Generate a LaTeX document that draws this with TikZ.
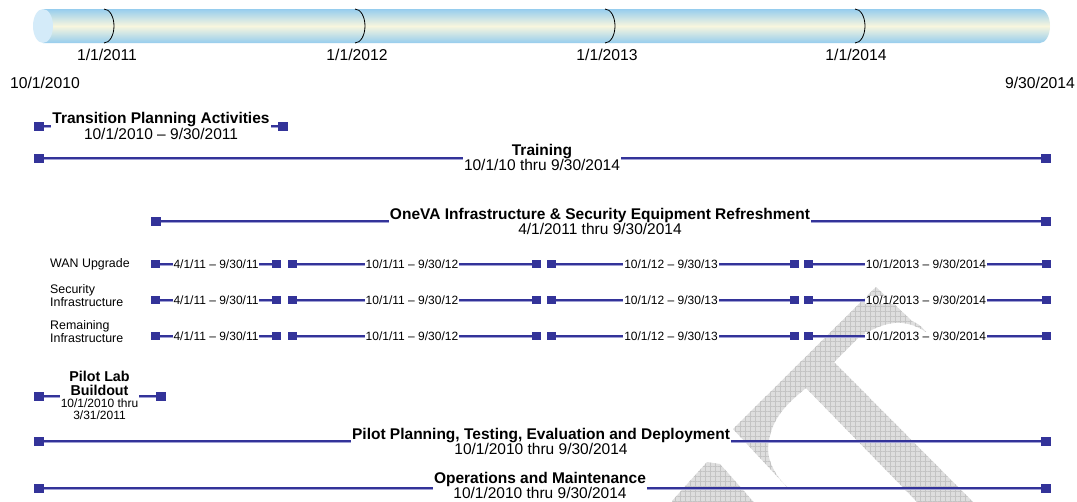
\documentclass[tikz,border=0pt]{standalone}
\usepackage{fontspec}
\setmainfont{Liberation Sans}
\usetikzlibrary{patterns.meta}
\definecolor{barblue}{RGB}{51,51,153}
\definecolor{barshadow}{RGB}{160,160,212}
\definecolor{cylblue}{RGB}{150,205,238}
\definecolor{cylcream}{RGB}{248,246,222}
\definecolor{capblue}{RGB}{212,235,249}
\definecolor{wmfill}{RGB}{222,222,222}
\definecolor{wmline}{RGB}{196,196,196}
\begin{document}
\begin{tikzpicture}[x=1pt,y=-1pt,
  mk/.style={rectangle, fill=barblue, minimum width=10pt, minimum height=9pt, inner sep=0pt, outer sep=0pt},
  smk/.style={mk, minimum width=9pt, minimum height=8pt},
  bar/.style={draw=barblue, line width=2.4pt, preaction={draw=barshadow, line width=2.4pt, transform canvas={yshift=-1pt}}},
  sbar/.style={draw=barblue, line width=1.4pt, preaction={draw=barshadow, line width=1.4pt, transform canvas={yshift=-0.8pt}}},
  lbl/.style={fill=white, inner xsep=1pt, inner ysep=0pt, align=center, font=\fontsize{15.5}{14}\selectfont},
  slbl/.style={fill=white, inner xsep=1pt, inner ysep=0pt, font=\fontsize{12}{13}\selectfont},
  rowlbl/.style={anchor=west, align=left, inner sep=0pt, font=\fontsize{12.4}{13}\selectfont},
  axlbl/.style={inner sep=0pt, font=\fontsize{15.7}{16}\selectfont},
  tick/.style={draw=black, line width=0.8pt},
  wm/.style={fill=wmfill,
    postaction={pattern={Lines[angle=0,distance=5pt,line width=0.4pt]}, pattern color=wmline},
    postaction={pattern={Lines[angle=90,distance=5pt,line width=0.4pt]}, pattern color=wmline}}
]
\useasboundingbox (0,0) rectangle (1077,501);
\fill[white] (0,0) rectangle (1077,501);

% watermark
\begin{scope}
\clip (0,0) rectangle (1077,501);
\path[wm] (876,287) -- (912,321) .. controls (920,325) .. (926,332)
  .. controls (905,318) and (885,320) .. (858,338) -- (834,362) -- (978,507) -- (922,507)
  -- (806,388) .. controls (785,405) and (770,420) .. (768,448)
  .. controls (768,465) and (778,478) .. (787,487) -- (733,429) -- cycle;
\path[wm] (672,501) -- (707,462) -- (720,464) -- (758,507) -- (672,507) -- cycle;
\end{scope}

% timeline cylinder
\shade[top color=cylblue, bottom color=cylblue, middle color=cylcream]
  (43,9) -- (1040,9) arc[start angle=-90,end angle=90,x radius=10,y radius=17] -- (43,43) -- cycle;
\fill[capblue] (43,26) ellipse[x radius=10, y radius=17];
\foreach \tx in {104,355,605,855}{
  \draw[tick] (\tx,9) arc[start angle=-90,end angle=90,x radius=10,y radius=17];
}
\node[axlbl] (y11) at (107,55) {1/1/2011};
\node[axlbl] (y12) at (357,55) {1/1/2012};
\node[axlbl] (y13) at (607,55) {1/1/2013};
\node[axlbl] (y14) at (856,55) {1/1/2014};
\node[axlbl] (ys) at (45,83) {10/1/2010};
\node[axlbl] (ye) at (1040,83) {9/30/2014};

% Transition Planning
\node[mk] (t1) at (39,126) {};
\node[mk] (t2) at (283,126) {};
\draw[bar] (t1) -- (t2);
\node[lbl] (tl) at (161,126) {\textbf{Transition Planning Activities}\\10/1/2010 -- 9/30/2011};

% Training
\node[mk] (tr1) at (39,158) {};
\node[mk] (tr2) at (1046,158) {};
\draw[bar] (tr1) -- (tr2);
\node[lbl] (trl) at (542,157.5) {\textbf{Training}\\10/1/10 thru 9/30/2014};

% OneVA
\node[mk] (o1) at (155.5,221) {};
\node[mk] (o2) at (1046,221) {};
\draw[bar] (o1) -- (o2);
\node[lbl] (ol) at (600,221.5) {\textbf{OneVA Infrastructure \& Security Equipment Refreshment}\\4/1/2011 thru 9/30/2014};

% sub rows
\node[rowlbl] (rw) at (50,264) {WAN Upgrade};
\node[rowlbl] (rs) at (50,295.5) {Security\\Infrastructure};
\node[rowlbl] (rr) at (50,331.5) {Remaining\\Infrastructure};
\foreach \r/\y in {w/264,s/300,r/336}{
  \node[smk] (\r-a1) at (155,\y) {};
  \node[smk] (\r-a2) at (276,\y) {};
  \node[smk] (\r-b1) at (292,\y) {};
  \node[smk] (\r-b2) at (536,\y) {};
  \node[smk] (\r-c1) at (551,\y) {};
  \node[smk] (\r-c2) at (794,\y) {};
  \node[smk] (\r-d1) at (808,\y) {};
  \node[smk] (\r-d2) at (1046,\y) {};
  \draw[sbar] (\r-a1) -- (\r-a2);
  \draw[sbar] (\r-b1) -- (\r-b2);
  \draw[sbar] (\r-c1) -- (\r-c2);
  \draw[sbar] (\r-d1) -- (\r-d2);
  \node[slbl] (\r-la) at (216,\y) {4/1/11 -- 9/30/11};
  \node[slbl] (\r-lb) at (412,\y) {10/1/11 -- 9/30/12};
  \node[slbl] (\r-lc) at (671,\y) {10/1/12 -- 9/30/13};
  \node[slbl] (\r-ld) at (926,\y) {10/1/2013 -- 9/30/2014};
}

% Pilot Lab Buildout
\node[mk] (p1) at (39,396) {};
\node[mk] (p2) at (160.5,396) {};
\draw[bar] (p1) -- (p2);
\node[lbl, font=\fontsize{14.3}{14}\selectfont] (pl) at (99.5,395.5)
  {\textbf{Pilot Lab}\\\textbf{Buildout}\\[-1.5pt]{\fontsize{12}{12}\selectfont 10/1/2010 thru}\\[-2pt]{\fontsize{12}{12}\selectfont 3/31/2011}};

% Pilot Planning
\node[mk] (pp1) at (39,441) {};
\node[mk] (pp2) at (1046,441) {};
\draw[bar] (pp1) -- (pp2);
\node[lbl] (ppl) at (541,441.5) {\textbf{Pilot Planning, Testing, Evaluation and Deployment}\\10/1/2010 thru 9/30/2014};

% Operations
\node[mk] (op1) at (39,488) {};
\node[mk] (op2) at (1046,488) {};
\draw[bar] (op1) -- (op2);
\node[lbl] (opl) at (540,485.5) {\textbf{Operations and Maintenance}\\10/1/2010 thru 9/30/2014};
\end{tikzpicture}
\end{document}
